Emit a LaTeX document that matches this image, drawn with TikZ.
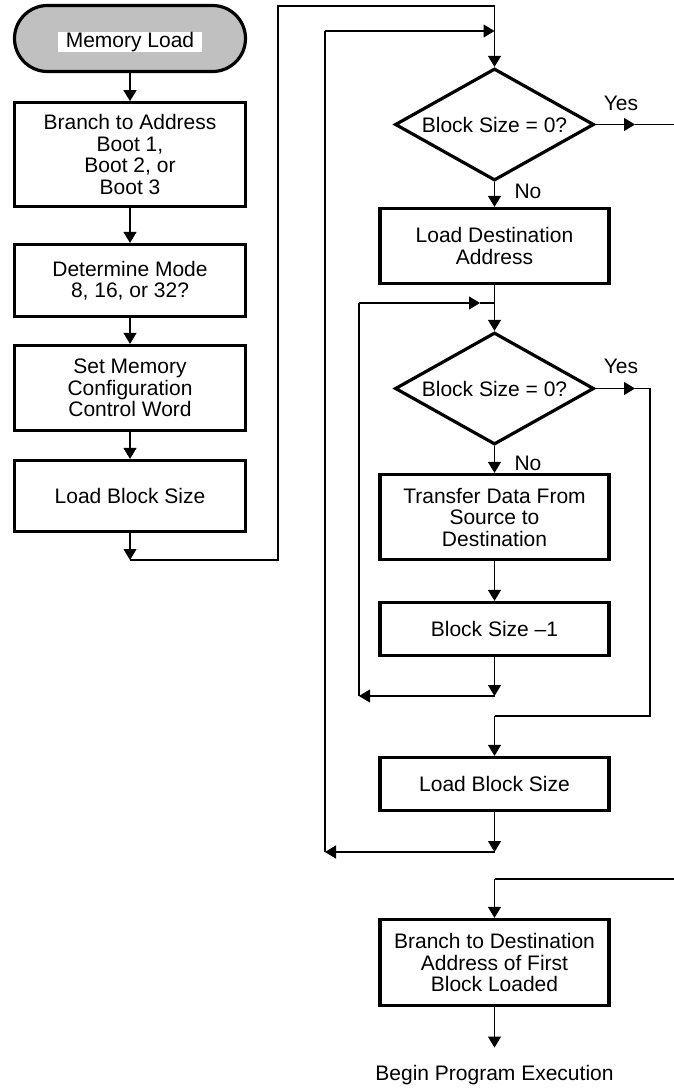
\documentclass[tikz,border=0pt]{standalone}
\usepackage{fontspec}
\setmainfont{Liberation Sans}
\usetikzlibrary{arrows.meta,shapes.geometric}
\definecolor{termgray}{RGB}{192,192,192}
\begin{document}
\begin{tikzpicture}[x=1bp,y=-1bp,
  every node/.style={font=\fontsize{21bp}{21.5bp}\selectfont},
  procbox/.style={draw, line width=3.2bp, align=center, inner sep=0pt},
  lbox/.style={procbox, minimum width=231bp},
  rbox/.style={procbox, minimum width=229bp},
  decision/.style={diamond, aspect=1.78, draw, line width=3.2bp, minimum width=199bp, minimum height=112bp, inner sep=0pt},
  terminal/.style={draw, line width=3.2bp, fill=termgray, rounded corners=33bp, minimum width=231bp, minimum height=66bp},
  conn/.style={line width=1.1bp},
  arr/.style={conn, -{Triangle[length=11bp,width=13bp]}},
  lbl/.style={inner sep=0pt, anchor=base}
]
\useasboundingbox (0,0) rectangle (674,1088);

% left column
\node[terminal] (ml) at (130,38.5) {};
\node[fill=white, inner xsep=8bp, inner ysep=1bp, text height=14bp, text depth=4bp] (mlt) at (130,42) {Memory Load};
\node[lbox, minimum height=103.5bp] (b1) at (130,154.5) {Branch to Address\\Boot 1,\\Boot 2, or\\Boot 3};
\node[lbox, minimum height=72bp] (b2) at (130,280.5) {Determine Mode\\8, 16, or 32?};
\node[lbox, minimum height=85bp] (b3) at (130,388) {Set Memory\\Configuration\\Control Word};
\node[lbox, minimum height=71bp] (b4) at (130,496) {Load Block Size};

% right column
\node[decision] (d1) at (494.5,124.5) {Block Size = 0?};
\node[rbox, minimum height=75bp] (b5) at (494.5,246) {Load Destination\\Address};
\node[decision] (d2) at (494.5,388.5) {Block Size = 0?};
\node[rbox, minimum height=85bp] (b6) at (494.5,517) {Transfer Data From\\Source to\\Destination};
\node[rbox, minimum height=53bp] (b7) at (494.5,629) {Block Size --1};
\node[rbox, minimum height=53bp] (b8) at (494.5,784) {Load Block Size};
\node[rbox, minimum height=86bp] (b9) at (494.5,962.5) {Branch to Destination\\Address of First\\Block Loaded};
\node[lbl] (endt) at (494.5,1080) {Begin Program Execution};

% labels
\node[lbl] (yes1) at (621,110) {Yes};
\node[lbl] (no1) at (528,198) {No};
\node[lbl] (yes2) at (621,373) {Yes};
\node[lbl] (no2) at (528,470) {No};

% coordinates
\coordinate (c1) at (130,560);
\coordinate (c2) at (278,560);
\coordinate (c3) at (278,6);
\coordinate (c4) at (494.5,6);
\coordinate (j1) at (494.5,31);
\coordinate (j2) at (494.5,303);
\coordinate (c5) at (494.5,696);
\coordinate (c6) at (359,696);
\coordinate (c7) at (359,303);
\coordinate (c7a) at (480,303);
\coordinate (c8) at (494.5,852);
\coordinate (c9) at (325,852);
\coordinate (c10) at (325,31);
\coordinate (y1a) at (635,124.5);
\coordinate (y1b) at (674,124.5);
\coordinate (y2a) at (635,388.5);
\coordinate (y2b) at (650,388.5);
\coordinate (y2c) at (650,716);
\coordinate (y2d) at (494.5,716);
\coordinate (e1) at (674,879);
\coordinate (e2) at (494.5,879);

% connectors left
\draw[arr] (ml) -- (b1);
\draw[arr] (b1) -- (b2);
\draw[arr] (b2) -- (b3);
\draw[arr] (b3) -- (b4);
\draw[arr] (b4) -- (c1);
\draw[conn] (c1) -- (c2) -- (c3) -- (c4) -- (j1);
\draw[arr] (j1) -- (d1);

% right
\draw[arr] (d1.east) -- (y1a);
\draw[conn] (y1a) -- (y1b);
\draw[arr] (d1) -- (b5);
\draw[conn] (b5) -- (j2);
\draw[arr] (j2) -- (d2);
\draw[arr] (d2) -- (b6);
\draw[arr] (b6) -- (b7);
\draw[arr] (b7) -- (c5);
\draw[arr] (c5) -- (c6);
\draw[conn] (c6) -- (c7);
\draw[arr] (c7) -- (c7a);
\draw[conn] (c7a) -- (j2);
\draw[arr] (d2.east) -- (y2a);
\draw[conn] (y2a) -- (y2b) -- (y2c) -- (y2d);
\draw[arr] (y2d) -- (b8);
\draw[arr] (b8) -- (c8);
\draw[arr] (c8) -- (c9);
\draw[conn] (c9) -- (c10);
\draw[arr] (c10) -- (j1);
\draw[conn] (e1) -- (e2);
\draw[arr] (e2) -- (b9);
\draw[arr, shorten >=17bp] (b9) -- (endt.north);
\end{tikzpicture}
\end{document}
